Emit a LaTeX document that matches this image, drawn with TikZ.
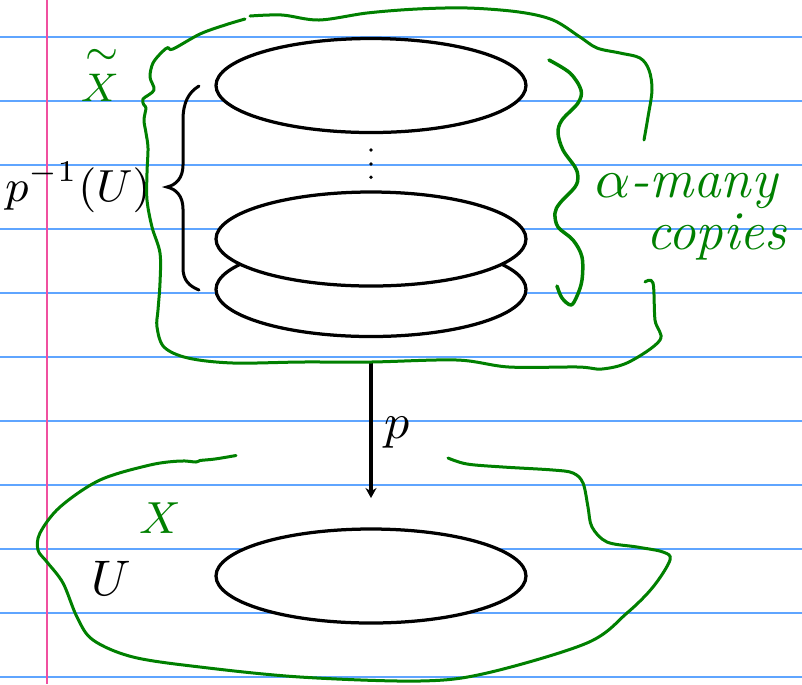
\documentclass[tikz,border=0pt]{standalone}
\usetikzlibrary{arrows.meta,shapes.geometric}
\definecolor{ruleblue}{RGB}{95,165,255}
\definecolor{marginpink}{RGB}{240,80,160}
\definecolor{penGreen}{RGB}{0,128,0}
\begin{document}
\begin{tikzpicture}[x=0.2pt,y=-0.2pt,
  rule/.style={ruleblue, line width=0.4pt},
  disc/.style={ellipse, draw, fill=white, line width=0.65pt, minimum width=62pt, minimum height=18.8pt, inner sep=0pt, outer sep=0pt},
  pen/.style={penGreen, line width=0.6pt, line cap=round, line join=round},
  note/.style={text=penGreen, inner sep=0pt},
  lab/.style={inner sep=0pt}
]
\useasboundingbox (0,0) rectangle (802,684);
\fill[white] (0,0) rectangle (802,684);
\foreach \k in {0,...,10} \draw[rule] (0,{37+64*\k}) -- (802,{37+64*\k});
\draw[marginpink, line width=0.5pt] (47,0) -- (47,684);

% discs
\node[disc] (d1) at (371,85.5) {};
\node[disc] (d3) at (371,289.5) {};
\node[disc] (d2) at (371,239) {};
\node[disc] (u) at (371,576) {};
\foreach \yy in {150,164,177.3} \fill (371,\yy) circle (0.38pt);

% brace
\draw[line width=0.6pt, line cap=round] (199,86) .. controls (189,92) and (183,102) .. (183,120) -- (183,165) .. controls (183,178) and (176,185) .. (167,187) .. controls (176,189) and (183,196) .. (183,209) -- (183,268) .. controls (183,280) and (189,286) .. (199,290);

% arrow
\draw[line width=0.65pt, -{Stealth[length=2pt,width=2.2pt]}, shorten <=5.3pt, shorten >=6.2pt] (d3.south) -- (u.north);

% labels
\node[lab, anchor=base, font=\small] (pinv) at (78,201) {$p^{-1}(U)$};
\node[lab, anchor=base west] (plab) at (383,438) {$p$};
\node[lab, anchor=base] (ulab) at (111,595) {$U$};

% green hand-drawn outlines
\draw[pen] plot[smooth, tension=0.55] coordinates {(245,19) (225,25) (200,34) (173,49) (168,47.5) (162,52) (153,63) (150,77) (154,90) (143,99) (144,105) (146,108) (144,120) (146,133) (148,148) (147,173) (147,200) (152,227) (160,253) (160,283) (158,310) (157,327) (164,347) (188,358) (233,363) (302,362) (371,362) (457,360) (509,367) (578,367) (602,369) (629,362) (660,340) (655,320) (653,283) (645,282)};
\draw[pen] plot[smooth, tension=0.55] coordinates {(250,16) (282,15) (319,20) (367,13) (417,9) (468,8) (519,12) (553,20) (580,37) (597,48) (620,53) (640,58) (649,70) (652,90) (648,117) (644,140)};
\draw[pen, line width=0.7pt] plot[smooth, tension=0.55] coordinates {(549,60) (570,73) (581,90) (578,103) (562,120) (558,133) (563,150) (575,167) (578,177) (575,187) (560,203) (555,213) (558,227) (573,240) (582,257) (582,280) (577,296) (571,305) (562,298) (557,286)};
\draw[pen] plot[smooth, tension=0.55] coordinates {(236,455.5) (215,459) (200,460.5) (196,462) (180,461) (150,465) (100,480) (60,507) (40,533) (38,550) (47,562) (63,583) (77,617) (93,640) (133,657) (200,667) (300,677) (420,681) (487,673) (587,643) (627,613) (653,587) (670,560) (663,552) (637,547) (607,542) (592,527) (588,507) (583,483) (573,473) (553,470) (503,467) (467,464) (448,458)};

% green handwritten notes
\node[note, anchor=base, font=\footnotesize] (xt) at (100,98) {$\stackrel{\textstyle\sim}{X}$};
\node[note, anchor=base, font=\small] (xb) at (160,533) {$X$};
\node[note, anchor=base west, font=\fontsize{11}{13}\selectfont\itshape] (amany) at (594,197) {$\alpha$-many};
\node[note, anchor=base west, font=\fontsize{11}{13}\selectfont\itshape] (copies) at (645,249) {copies};
\end{tikzpicture}
\end{document}
